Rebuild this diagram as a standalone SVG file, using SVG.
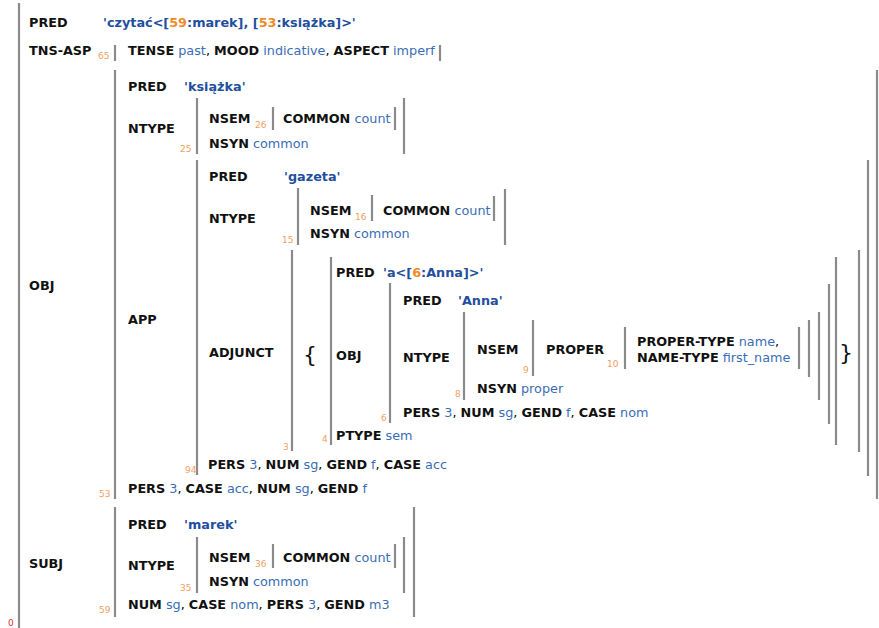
<svg xmlns="http://www.w3.org/2000/svg" width="879" height="628" viewBox="0 0 879 628">
<style>
text{font-family:"DejaVu Sans",Verdana,sans-serif;font-size:12.8px}
.a{font-weight:bold;fill:#111}
.v{fill:#3a6db5}
.p{font-weight:bold;fill:#1f4f9e}
.o{fill:#f08a2a;font-weight:bold}
.n{font-size:9px;fill:#f0a060}
.r{font-size:9px;fill:#e03030}
.br{font-size:22px;fill:#111}
line{stroke:#8a8a8a;stroke-width:2.2}
</style>
<rect width="879" height="628" fill="#fff"/>
<g id="bars">
<line x1="19" y1="3" x2="19" y2="628"/>
<line x1="115" y1="45" x2="115" y2="61"/><line x1="440" y1="45" x2="440" y2="61"/>
<line x1="115" y1="70" x2="115" y2="499"/><line x1="877" y1="70" x2="877" y2="499"/>
<line x1="197" y1="98" x2="197" y2="154"/><line x1="404" y1="98" x2="404" y2="154"/>
<line x1="273" y1="107" x2="273" y2="130"/><line x1="395" y1="107" x2="395" y2="130"/>
<line x1="197" y1="160" x2="197" y2="475"/><line x1="868" y1="160" x2="868" y2="476"/>
<line x1="298" y1="188" x2="298" y2="245"/><line x1="505" y1="189" x2="505" y2="245"/>
<line x1="372" y1="195" x2="372" y2="221"/><line x1="494" y1="196" x2="494" y2="221"/>
<line x1="292" y1="250" x2="292" y2="451"/><line x1="859" y1="250" x2="859" y2="452"/>
<line x1="331" y1="257" x2="331" y2="445"/><line x1="836" y1="257" x2="836" y2="445"/>
<line x1="390" y1="283" x2="390" y2="423"/><line x1="829" y1="284" x2="829" y2="424"/>
<line x1="464" y1="312" x2="464" y2="400"/><line x1="819" y1="312" x2="819" y2="400"/>
<line x1="533" y1="320" x2="533" y2="376"/><line x1="809" y1="320" x2="809" y2="377"/>
<line x1="625" y1="327" x2="625" y2="369"/><line x1="799" y1="327" x2="799" y2="369"/>
<line x1="115" y1="507" x2="115" y2="617"/><line x1="414" y1="507" x2="414" y2="617"/>
<line x1="197" y1="537" x2="197" y2="593"/><line x1="404" y1="537" x2="404" y2="593"/>
<line x1="273" y1="544" x2="273" y2="568"/><line x1="395" y1="544" x2="395" y2="568"/>
</g>
<g id="f0">
<text x="29" y="27" class="a">PRED</text>
<text x="103" y="27" class="p">'czytać&lt;[<tspan class="o">59</tspan>:marek], [<tspan class="o">53</tspan>:książka]&gt;'</text>
<text x="29" y="55" class="a">TNS-ASP</text>
<text x="29" y="290" class="a">OBJ</text>
<text x="29" y="568" class="a">SUBJ</text>
<text x="8" y="626" class="r">0</text>
</g>
<g id="f65">
<text x="98" y="59" class="n">65</text>
<text x="128" y="55"><tspan class="a">TENSE</tspan> <tspan class="v">past</tspan>, <tspan class="a">MOOD</tspan> <tspan class="v">indicative</tspan>, <tspan class="a">ASPECT</tspan> <tspan class="v">imperf</tspan></text>
</g>
<g id="f53">
<text x="128" y="91" class="a">PRED</text><text x="184" y="91" class="p">'książka'</text>
<text x="128" y="133" class="a">NTYPE</text>
<text x="128" y="324" class="a">APP</text>
<text x="99" y="497" class="n">53</text>
<text x="128" y="493"><tspan class="a">PERS</tspan> <tspan class="v">3</tspan>, <tspan class="a">CASE</tspan> <tspan class="v">acc</tspan>, <tspan class="a">NUM</tspan> <tspan class="v">sg</tspan>, <tspan class="a">GEND</tspan> <tspan class="v">f</tspan></text>
</g>
<g id="f25">
<text x="209" y="123" class="a">NSEM</text><text x="255" y="128" class="n">26</text>
<text x="283" y="123"><tspan class="a">COMMON</tspan> <tspan class="v">count</tspan></text>
<text x="209" y="148"><tspan class="a">NSYN</tspan> <tspan class="v">common</tspan></text>
<text x="180" y="152" class="n">25</text>
</g>
<g id="f94">
<text x="209" y="181" class="a">PRED</text><text x="284" y="181" class="p">'gazeta'</text>
<text x="209" y="223" class="a">NTYPE</text>
<text x="209" y="357" class="a">ADJUNCT</text>
<text x="185" y="473" class="n">94</text>
<text x="208" y="469"><tspan class="a">PERS</tspan> <tspan class="v">3</tspan>, <tspan class="a">NUM</tspan> <tspan class="v">sg</tspan>, <tspan class="a">GEND</tspan> <tspan class="v">f</tspan>, <tspan class="a">CASE</tspan> <tspan class="v">acc</tspan></text>
</g>
<g id="f15">
<text x="310" y="215" class="a">NSEM</text><text x="355" y="220" class="n">16</text>
<text x="383" y="215"><tspan class="a">COMMON</tspan> <tspan class="v">count</tspan></text>
<text x="310" y="238"><tspan class="a">NSYN</tspan> <tspan class="v">common</tspan></text>
<text x="282" y="243" class="n">15</text>
</g>
<g id="f3">
<text x="283" y="450" class="n">3</text>
<text x="303" y="362" class="br">{</text>
<text x="839" y="360" class="br">}</text>
</g>
<g id="f4">
<text x="336" y="277" class="a">PRED</text>
<text x="383" y="277" class="p">'a&lt;[<tspan class="o">6</tspan>:Anna]&gt;'</text>
<text x="336" y="360" class="a">OBJ</text>
<text x="336" y="440"><tspan class="a">PTYPE</tspan> <tspan class="v">sem</tspan></text>
<text x="322" y="442" class="n">4</text>
</g>
<g id="f6">
<text x="403" y="305" class="a">PRED</text><text x="458" y="305" class="p">'Anna'</text>
<text x="403" y="362" class="a">NTYPE</text>
<text x="403" y="417"><tspan class="a">PERS</tspan> <tspan class="v">3</tspan>, <tspan class="a">NUM</tspan> <tspan class="v">sg</tspan>, <tspan class="a">GEND</tspan> <tspan class="v">f</tspan>, <tspan class="a">CASE</tspan> <tspan class="v">nom</tspan></text>
<text x="381" y="421" class="n">6</text>
</g>
<g id="f8">
<text x="477" y="354" class="a">NSEM</text>
<text x="477" y="393"><tspan class="a">NSYN</tspan> <tspan class="v">proper</tspan></text>
<text x="455" y="397" class="n">8</text>
</g>
<g id="f9">
<text x="546" y="354" class="a">PROPER</text>
<text x="523" y="373" class="n">9</text>
</g>
<g id="f10">
<text x="637" y="346"><tspan class="a">PROPER-TYPE</tspan> <tspan class="v">name</tspan>,</text>
<text x="637" y="362"><tspan class="a">NAME-TYPE</tspan> <tspan class="v">first_name</tspan></text>
<text x="607" y="367" class="n">10</text>
</g>
<g id="f59">
<text x="128" y="529" class="a">PRED</text><text x="184" y="529" class="p">'marek'</text>
<text x="128" y="570" class="a">NTYPE</text>
<text x="128" y="609"><tspan class="a">NUM</tspan> <tspan class="v">sg</tspan>, <tspan class="a">CASE</tspan> <tspan class="v">nom</tspan>, <tspan class="a">PERS</tspan> <tspan class="v">3</tspan>, <tspan class="a">GEND</tspan> <tspan class="v">m3</tspan></text>
<text x="99" y="613" class="n">59</text>
</g>
<g id="f35">
<text x="209" y="562" class="a">NSEM</text><text x="255" y="567" class="n">36</text>
<text x="283" y="562"><tspan class="a">COMMON</tspan> <tspan class="v">count</tspan></text>
<text x="209" y="586"><tspan class="a">NSYN</tspan> <tspan class="v">common</tspan></text>
<text x="180" y="591" class="n">35</text>
</g>
</svg>
